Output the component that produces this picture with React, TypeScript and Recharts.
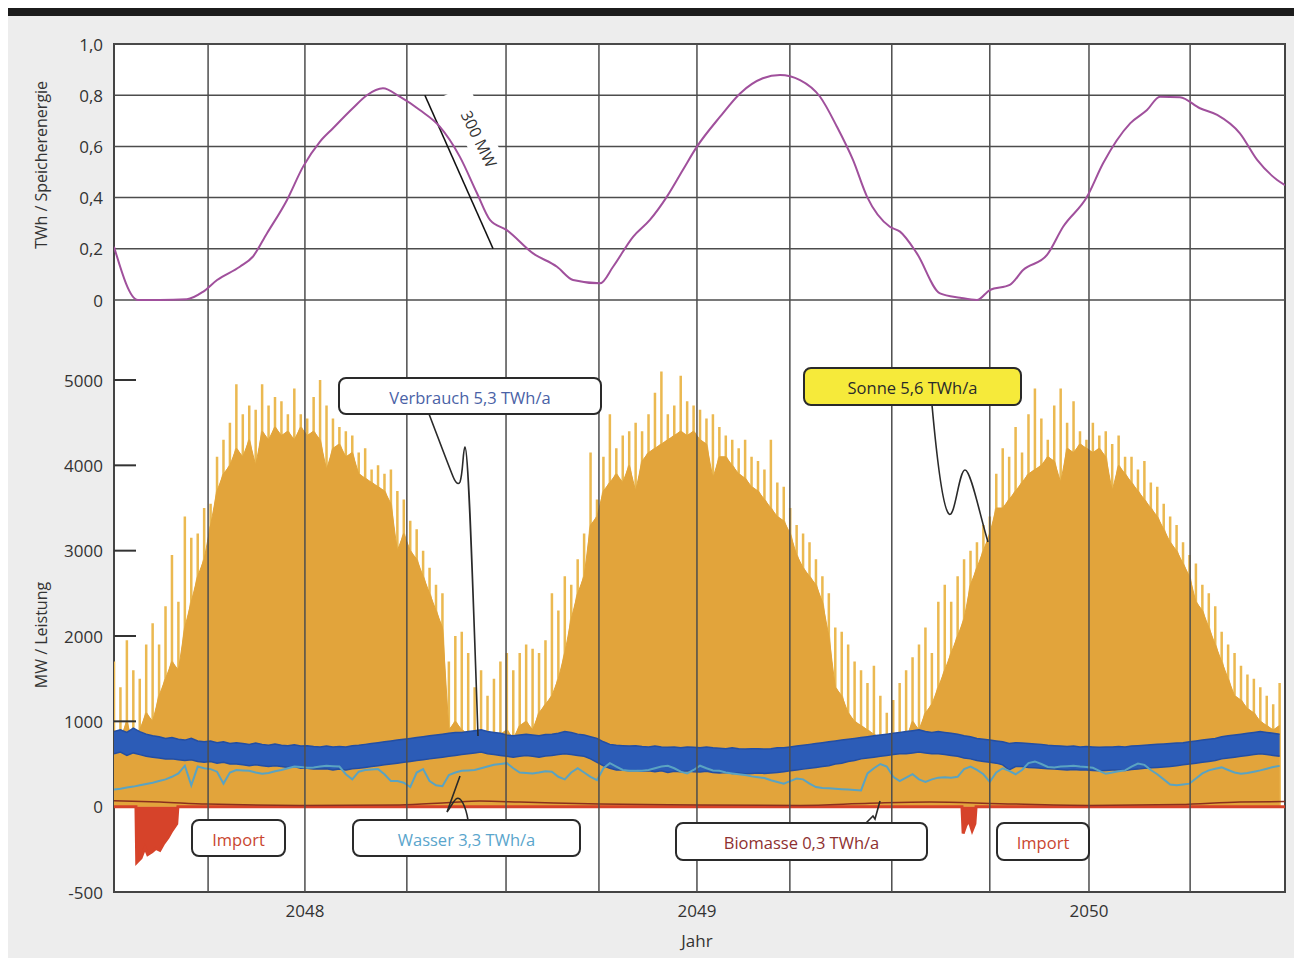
import React from 'react';
import {
  ComposedChart,
  LineChart,
  Line,
  Area,
  XAxis,
  YAxis,
  CartesianGrid,
  ReferenceLine,
} from 'recharts';

// ---------- time axis ----------
const X_START = 2047.513;
const X_END = 2050.5;
const yearTicks = [2048, 2049, 2050];
const gridYears = [2047.753, 2048, 2048.26, 2048.513, 2048.75, 2049, 2049.237, 2049.497, 2049.747, 2050, 2050.258];

// ---------- top panel: storage energy (TWh) ----------
const energyT = [
  2047.513, 2047.574, 2047.630, 2047.699, 2047.740, 2047.776, 2047.834, 2047.867, 2047.903, 2047.954,
  2047.995, 2048.038, 2048.071, 2048.122, 2048.158, 2048.199, 2048.242, 2048.293, 2048.344, 2048.395,
  2048.439, 2048.472, 2048.515, 2048.582, 2048.643, 2048.684, 2048.753, 2048.786, 2048.837, 2048.880,
  2048.923, 2048.964, 2049.000, 2049.059, 2049.110, 2049.168, 2049.212, 2049.263, 2049.314, 2049.357,
  2049.398, 2049.434, 2049.492, 2049.518, 2049.561, 2049.620, 2049.671, 2049.714, 2049.747, 2049.798,
  2049.832, 2049.893, 2049.934, 2049.995, 2050.036, 2050.105, 2050.148, 2050.181, 2050.232, 2050.283,
  2050.327, 2050.385, 2050.429, 2050.480, 2050.500,
];
const energyTWh = [
  0.208, 0.0, 0.0, 0.003, 0.032, 0.078, 0.13, 0.169, 0.26, 0.39,
  0.52, 0.618, 0.67, 0.749, 0.8, 0.827, 0.794, 0.742, 0.677, 0.56,
  0.417, 0.313, 0.273, 0.182, 0.13, 0.078, 0.065, 0.13, 0.247, 0.313,
  0.403, 0.508, 0.599, 0.716, 0.807, 0.866, 0.879, 0.859, 0.794, 0.677,
  0.547, 0.403, 0.286, 0.267, 0.182, 0.026, 0.009, 0.0, 0.039, 0.059,
  0.117, 0.176, 0.286, 0.403, 0.534, 0.69, 0.742, 0.794, 0.792, 0.749,
  0.723, 0.651, 0.547, 0.469, 0.449,
];
const energyTicks = [0, 0.2, 0.4, 0.6, 0.8, 1.0];

// ---------- bottom panel: power (MW), one sample every 6 days ----------
const STEP_DAYS = 6;
const sonneBody = [
  900, 800, 1000, 700, 900, 1100, 1000, 1300, 1500, 1700,
  1600, 2100, 2400, 2700, 2900, 3300, 3700, 3900, 4000, 4200,
  4100, 4300, 4000, 4400, 4300, 4450, 4350, 4400, 4300, 4450,
  4350, 4400, 4300, 3950, 4200, 4250, 4100, 4150, 3900, 3850,
  3800, 3750, 3700, 3550, 3000, 3200, 3000, 2900, 2700, 2500,
  2300, 2100, 900, 1000, 900, 850, 800, 850, 700, 800,
  850, 900, 800, 950, 1000, 900, 1100, 1200, 1300, 1500,
  1800, 2200, 2500, 2700, 3300, 3400, 3700, 3800, 3900, 3800,
  4000, 3700, 4050, 4150, 4200, 4250, 4300, 4350, 4400, 4350,
  4400, 4300, 4250, 3850, 4100, 4100, 4000, 3900, 3850, 3750,
  3700, 3600, 3500, 3400, 3350, 3200, 2950, 2800, 2700, 2600,
  2400, 2000, 1400, 1300, 1100, 1000, 950, 900, 850, 800,
  750, 800, 850, 800, 1000, 900, 1100, 1200, 1400, 1600,
  1800, 2000, 2200, 2600, 2800, 3000, 3200, 3500, 3500, 3600,
  3700, 3800, 3900, 3950, 4000, 4100, 4050, 3800, 4200, 4150,
  4250, 4200, 4150, 4200, 4100, 3700, 4000, 3900, 3800, 3700,
  3600, 3500, 3400, 3250, 3100, 3000, 2850, 2700, 2400, 2300,
  2100, 1900, 1700, 1500, 1300, 1250, 1150, 1100, 1000, 950,
  900, 950,
];
const sonnePeak = [
  1700, 1400, 1950, 1600, 1500, 1900, 2150, 1900, 2350, 2950,
  2400, 3400, 3150, 3200, 3500, 3550, 4100, 4300, 4500, 4950,
  4600, 4700, 4650, 4950, 4700, 4800, 4750, 4600, 4900, 4600,
  4550, 4800, 5000, 4700, 4550, 4450, 4400, 4350, 4150, 4200,
  3950, 4000, 3900, 3950, 3700, 3600, 3350, 3250, 3000, 2800,
  2600, 2500, 1700, 2000, 2050, 1800, 1400, 1600, 1300, 1500,
  1700, 1800, 1600, 1800, 1900, 1850, 1800, 1950, 2500, 2300,
  2700, 2600, 2900, 3200, 4150, 3600, 4100, 4600, 4200, 4350,
  4400, 4500, 4400, 4600, 4850, 5100, 4600, 4700, 5050, 4750,
  4700, 4650, 4550, 4600, 4450, 4350, 4300, 4200, 4300, 4100,
  4050, 3950, 4300, 3800, 3750, 3500, 3300, 3200, 3100, 2900,
  2700, 2500, 2100, 2050, 1900, 1700, 1600, 1450, 1650, 1300,
  1100, 1250, 1450, 1600, 1750, 1900, 2100, 1800, 2400, 2600,
  2400, 2700, 2900, 3000, 3100, 3300, 3400, 3900, 4200, 4100,
  4450, 4150, 4600, 4900, 4550, 4300, 4700, 4900, 4500, 4750,
  4400, 4300, 4500, 4350, 4400, 4250, 4350, 4100, 4100, 3950,
  4050, 3800, 3750, 3550, 3400, 3300, 3100, 2950, 2850, 2600,
  2500, 2350, 2050, 1900, 1800, 1650, 1550, 1500, 1400, 1300,
  1200, 1450,
];
const verbrauchHi = [
  880, 900, 870, 920, 880, 850, 830, 820, 800, 810,
  790, 780, 800, 770, 760, 770, 750, 760, 740, 750,
  740, 730, 745, 730, 720, 735, 720, 715, 725, 710,
  715, 705, 700, 710, 700, 705, 700, 715, 720, 730,
  740, 750, 760, 770, 780, 790, 800, 810, 820, 830,
  840, 850, 860, 870, 870, 880, 890, 900, 880, 870,
  860, 840, 830, 840, 850, 840, 830, 845, 850, 860,
  880, 870, 850, 840, 820, 800, 760, 730, 720, 715,
  710, 715, 705, 700, 710, 700, 695, 700, 690, 700,
  695, 690, 700, 690, 685, 680, 690, 680, 675, 680,
  680, 675, 680, 690, 690, 700, 710, 720, 730, 740,
  750, 760, 770, 780, 790, 800, 810, 820, 830, 840,
  850, 860, 870, 880, 890, 900, 880, 870, 880, 870,
  860, 850, 830, 820, 800, 790, 780, 770, 760, 740,
  750, 745, 740, 735, 730, 720, 715, 710, 705, 710,
  700, 705, 700, 695, 700, 700, 705, 700, 710, 715,
  720, 725, 730, 735, 740, 745, 750, 760, 770, 780,
  790, 800, 820, 830, 840, 850, 860, 870, 880, 870,
  860, 850,
];
const verbrauchLo = [
  620, 640, 600, 630, 610, 590, 580, 570, 560, 560,
  550, 540, 550, 530, 520, 530, 510, 520, 500, 500,
  490, 480, 490, 480, 470, 480, 470, 460, 470, 450,
  450, 440, 440, 445, 430, 440, 430, 445, 450, 460,
  470, 480, 490, 500, 510, 520, 530, 540, 550, 560,
  570, 580, 590, 600, 610, 620, 630, 640, 620, 610,
  600, 590, 580, 590, 600, 590, 580, 595, 600, 610,
  620, 610, 600, 590, 560, 520, 480, 450, 430, 430,
  420, 425, 415, 420, 410, 420, 400, 415, 410, 420,
  410, 405, 415, 400, 395, 400, 390, 395, 385, 390,
  395, 390, 395, 400, 410, 420, 430, 440, 450, 460,
  470, 480, 500, 510, 530, 540, 560, 570, 580, 590,
  600, 610, 620, 620, 630, 640, 630, 620, 620, 610,
  600, 590, 570, 560, 540, 530, 520, 510, 490, 430,
  470, 470, 460, 455, 450, 445, 440, 435, 430, 435,
  430, 430, 425, 420, 425, 430, 430, 425, 435, 440,
  450, 455, 460, 465, 470, 480, 490, 500, 510, 520,
  530, 540, 560, 570, 580, 590, 600, 610, 620, 610,
  600, 590,
];
const wasser = [
  200, 210, 225, 235, 250, 265, 280, 300, 320, 350,
  390, 480, 250, 470, 450, 440, 410, 270, 400, 430,
  425, 420, 400, 385, 395, 415, 430, 450, 470, 465,
  455, 460, 470, 480, 475, 470, 380, 320, 410, 430,
  435, 440, 380, 300, 300, 280, 230, 400, 440, 300,
  250, 240, 370, 400, 420, 425, 430, 450, 470, 490,
  500, 510, 450, 400, 395, 390, 400, 415, 410, 350,
  320, 400, 450, 400, 350, 310, 450, 510, 470, 430,
  420, 420, 420, 430, 450, 470, 480, 450, 410, 390,
  430, 480, 450, 425, 420, 400, 390, 380, 370, 355,
  345, 335, 310, 290, 270, 300, 330, 320, 270, 230,
  220, 215, 210, 205, 200, 195, 190, 390, 450, 500,
  470, 350, 300, 340, 380, 320, 290, 320, 340, 345,
  340, 350, 440, 470, 430, 380, 290, 400, 450, 420,
  380, 430, 510, 530, 500, 465, 460, 470, 475, 480,
  470, 465, 455, 420, 385, 400, 415, 425, 470, 505,
  490, 430, 380, 320, 260, 250, 260, 270, 330, 390,
  425, 445, 460, 430, 400, 385, 395, 410, 425, 445,
  465, 478,
];

const biomasseT = [2047.513, 2047.630, 2047.750, 2047.987, 2048.242, 2048.370, 2048.446, 2048.548, 2048.753, 2049.008, 2049.263, 2049.441, 2049.594, 2049.773, 2050.0, 2050.232, 2050.385, 2050.5];
const biomasseMW = [70, 55, 30, 15, 20, 50, 65, 55, 30, 20, 15, 40, 55, 35, 15, 25, 55, 60];

const importT = [2047.513, 2047.569, 2047.571, 2047.582, 2047.592, 2047.599, 2047.610, 2047.620, 2047.630, 2047.640, 2047.651, 2047.661, 2047.673, 2047.676, 2049.676, 2049.679, 2049.686, 2049.694, 2049.702, 2049.709, 2049.712, 2050.5];
const importMW = [0, 0, -326, -300, -240, -280, -265, -245, -256, -215, -180, -140, -100, 0, 0, -157, -110, -81, -140, -100, 0, 0];

// the printed power axis gives the range 0 … -500 twice the height per MW
const NEG_STRETCH = 2;
const toAxis = (v: number) => (v < 0 ? v * NEG_STRETCH : v);
const powerTicks = [-1000, 0, 1000, 2000, 3000, 4000, 5000];

const sampleT = sonneBody.map((_, i) => X_START + (i * STEP_DAYS) / 365.25);
const powerData = sonneBody.map((b, i) => ({
  t: sampleT[i],
  sonne: b,
  verbrauch: [verbrauchLo[i], verbrauchHi[i]],
  wasser: wasser[i],
}));
// each daily peak is drawn as a narrow column standing on the body of the sun area
const HALF_W = 0.0032;
const spikeData = sonneBody.flatMap((b, i) => {
  const p = Math.max(b, sonnePeak[i]);
  const t = sampleT[i];
  return [
    { t: t - HALF_W, s: b },
    { t: t - HALF_W, s: p },
    { t: t + HALF_W, s: p },
    { t: t + HALF_W, s: b },
  ];
});
const energyData = energyT.map((t, i) => ({ t, e: energyTWh[i] }));
const biomasseData = biomasseT.map((t, i) => ({ t, bio: biomasseMW[i] }));
const importData = importT.map((t, i) => ({ t, imp: toAxis(importMW[i]) }));

const FONT = '"Open Sans", "DejaVu Sans", sans-serif';
const TXT = '#333333';
const GRID = '#4d4d4d';

const EnergyTick = (props: any) => {
  const v = props.payload.value as number;
  const s = v === 0 ? '0' : v.toFixed(1).replace('.', ',');
  return (
    <text x={95} y={props.y} textAnchor="end" dominantBaseline="central" fontSize={17} fill={TXT} fontFamily={FONT}>
      {s}
    </text>
  );
};

const PowerTick = (props: any) => {
  const v = props.payload.value as number;
  const shown = v < 0 ? v / NEG_STRETCH : v;
  return (
    <g>
      <text x={95} y={props.y} textAnchor="end" dominantBaseline="central" fontSize={17} fill={TXT} fontFamily={FONT}>
        {String(shown)}
      </text>
      {v > 0 && <line x1={106} x2={128} y1={props.y} y2={props.y} stroke="#333" strokeWidth={2} />}
    </g>
  );
};

const YearTick = (props: any) => (
  <text x={props.x} y={610} textAnchor="middle" dominantBaseline="central" fontSize={17} fill={TXT} fontFamily={FONT}>
    {String(props.payload.value)}
  </text>
);

const Callout = ({ x, y, w, h, fill, color, text }: any) => (
  <g>
    <rect x={x} y={y} width={w} height={h} rx={7} ry={7} fill={fill} stroke="#2a2a2a" strokeWidth={2} />
    <text x={x + w / 2} y={y + h / 2 + 1} textAnchor="middle" dominantBaseline="central" fontSize={16.5} fill={color} fontFamily={FONT}>
      {text}
    </text>
  </g>
);

export default function App() {
  return (
    <div style={{ position: 'relative', width: 1294, height: 950, background: '#ededed', fontFamily: FONT }}>
      <style>{'html,body{overflow:hidden}'}</style>
      <div style={{ position: 'absolute', left: 0, top: 0, width: 1294, height: 8, background: '#1c1c1c' }} />
      <div
        style={{
          position: 'absolute',
          left: 105,
          top: 35,
          width: 1173,
          height: 850,
          background: '#ffffff',
          border: '2px solid #444',
          boxSizing: 'border-box',
        }}
      />

      {/* bottom panel */}
      <div style={{ position: 'absolute', left: 0, top: 292 }}>
        <ComposedChart width={1294} height={658} data={powerData} margin={{ top: 0, right: 17, bottom: 36, left: 0 }}>
          <XAxis
            type="number"
            dataKey="t"
            domain={[X_START, X_END]}
            allowDataOverflow
            ticks={yearTicks}
            tick={YearTick}
            axisLine={false}
            tickLine={false}
            height={30}
          />
          <YAxis
            type="number"
            domain={[-1000, 5937.5]}
            allowDataOverflow
            ticks={powerTicks}
            tick={PowerTick}
            axisLine={false}
            tickLine={false}
            width={106}
          />
          <Area
            data={spikeData}
            type="linear"
            dataKey="s"
            fill="#ebb951"
            fillOpacity={1}
            stroke="none"
            baseValue={0}
            isAnimationActive={false}
          />
          <Area
            type="linear"
            dataKey="sonne"
            fill="#e2a43b"
            fillOpacity={1}
            stroke="#e2a43b"
            strokeWidth={1}
            baseValue={0}
            isAnimationActive={false}
          />
          <Area
            type="linear"
            dataKey="verbrauch"
            fill="#2c5cb7"
            fillOpacity={1}
            stroke="#234ea3"
            strokeWidth={1.5}
            isAnimationActive={false}
          />
          <Line type="linear" dataKey="wasser" stroke="#5aa3c2" strokeWidth={2} dot={false} isAnimationActive={false} />
          <Area
            data={importData}
            type="linear"
            dataKey="imp"
            fill="#d6432a"
            fillOpacity={1}
            stroke="#d6432a"
            strokeWidth={3}
            baseValue={0}
            isAnimationActive={false}
          />
          <Line
            data={biomasseData}
            type="monotone"
            dataKey="bio"
            stroke="#8a2f1f"
            strokeWidth={1.5}
            dot={false}
            isAnimationActive={false}
          />
          {gridYears.map((g) => (
            <ReferenceLine key={g} x={g} stroke={GRID} strokeWidth={1.5} />
          ))}
        </ComposedChart>
      </div>

      {/* top panel */}
      <div style={{ position: 'absolute', left: 0, top: 0 }}>
        <LineChart width={1294} height={312} data={energyData} margin={{ top: 36, right: 17, bottom: 20, left: 0 }}>
          <CartesianGrid horizontal vertical={false} stroke={GRID} strokeWidth={1.5} />
          <XAxis type="number" dataKey="t" domain={[X_START, X_END]} allowDataOverflow hide />
          <YAxis
            type="number"
            domain={[0, 1]}
            ticks={energyTicks}
            tick={EnergyTick}
            axisLine={false}
            tickLine={false}
            width={106}
          />
          {gridYears.map((g) => (
            <ReferenceLine key={g} x={g} stroke={GRID} strokeWidth={1.5} />
          ))}
          <ReferenceLine
            segment={[
              { x: 2048.306, y: 0.8 },
              { x: 2048.48, y: 0.2 },
            ]}
            stroke="#111"
            strokeWidth={1.6}
          />
          <Line type="monotone" dataKey="e" stroke="#a0509c" strokeWidth={2} dot={false} isAnimationActive={false} />
        </LineChart>
      </div>

      {/* annotations */}
      <svg width={1294} height={950} style={{ position: 'absolute', left: 0, top: 0, pointerEvents: 'none' }}>
        <g transform="translate(471,131) rotate(64)">
          <rect x={-54} y={-14} width={84} height={28} fill="#ffffff" />
          <text x={0} y={0} textAnchor="middle" dominantBaseline="central" fontSize={16} fill={TXT} fontFamily={FONT}>
            300 MW
          </text>
        </g>

        <text
          transform="translate(33,157) rotate(-90)"
          textAnchor="middle"
          dominantBaseline="central"
          fontSize={16}
          fill={TXT}
          fontFamily={FONT}
        >
          TWh / Speicherenergie
        </text>
        <text
          transform="translate(33,627) rotate(-90)"
          textAnchor="middle"
          dominantBaseline="central"
          fontSize={16}
          fill={TXT}
          fontFamily={FONT}
        >
          MW / Leistung
        </text>
        <text x={689} y={932} textAnchor="middle" dominantBaseline="central" fontSize={17} fill={TXT} fontFamily={FONT}>
          Jahr
        </text>

        <g fill="none" stroke="#2a2a2a" strokeWidth={1.6}>
          <path d="M421 406 C428 424 436 446 444 466 C447 474 450 478 452 474 C455 466 455 440 457 439 C460 440 463 520 470 728" />
          <path d="M924 397 C927 430 934 500 941 506 C947 511 951 462 957 462 C963 462 972 508 980 534" />
          <path d="M460 812 C458 800 453 787 448 791 C445 794 442 800 439 804 L452 768" />
          <path d="M858 815 L865 808 L867 811 L872 793" />
        </g>

        <Callout x={331} y={370} w={262} h={36} fill="#ffffff" color="#4a62a6" text="Verbrauch 5,3 TWh/a" />
        <Callout x={796} y={360} w={217} h={37} fill="#f6ea3a" color="#2a2a2a" text="Sonne 5,6 TWh/a" />
        <Callout x={184} y={812} w={93} h={36} fill="#ffffff" color="#c9462f" text="Import" />
        <Callout x={345} y={812} w={227} h={36} fill="#ffffff" color="#5aa5cc" text="Wasser 3,3 TWh/a" />
        <Callout x={668} y={815} w={251} h={37} fill="#ffffff" color="#8e3030" text="Biomasse 0,3 TWh/a" />
        <Callout x={989} y={815} w={92} h={37} fill="#ffffff" color="#c9462f" text="Import" />
      </svg>
    </div>
  );
}
